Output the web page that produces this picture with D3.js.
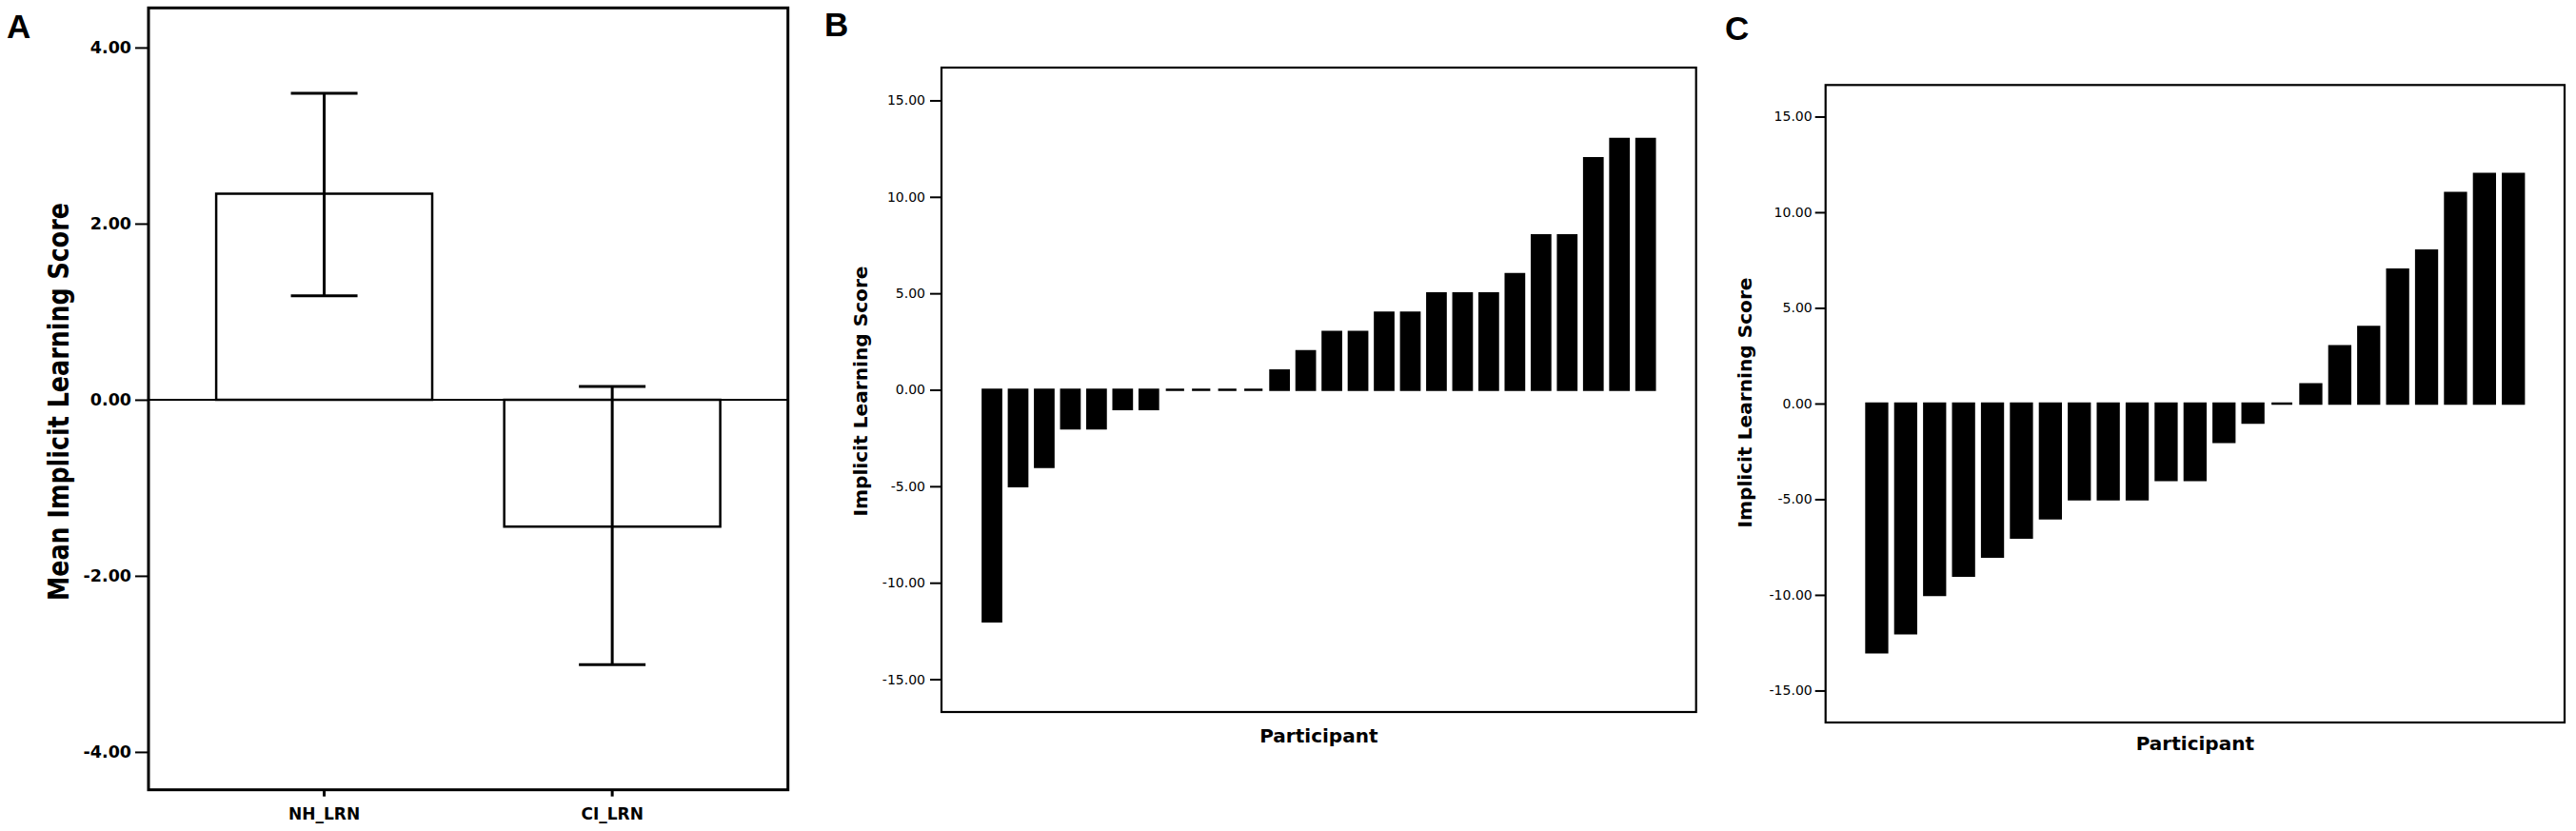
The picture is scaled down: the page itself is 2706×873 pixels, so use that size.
<!DOCTYPE html>
<html>
<head>
<meta charset="utf-8">
<script src="https://cdn.jsdelivr.net/npm/d3@7"></script>
<style>
  html, body { margin: 0; padding: 0; background: #fff; }
  svg { display: block; }
</style>
</head>
<body>
<script>
// ---------- data ----------
const groupsA = ["NH_LRN", "CI_LRN"];
const meansA = [2.34, -1.44];
const ciLowA = [1.18, -3.01];
const ciHighA = [3.48, 0.15];
const ticksA = [-4, -2, 0, 2, 4];

const scoresB = [-12, -5, -4, -2, -2, -1, -1, 0, 0, 0, 0, 1, 2, 3, 3, 4, 4, 5, 5, 5, 6, 8, 8, 12, 13, 13];
const scoresC = [-13, -12, -10, -9, -8, -7, -6, -5, -5, -5, -4, -4, -2, -1, 0, 1, 3, 4, 7, 8, 11, 12, 12];
const ticksBC = [-15, -10, -5, 0, 5, 10, 15];

const panelLabels = ["A", "B", "C"];
const yTitleA = "Mean Implicit Learning Score";
const yTitleBC = "Implicit Learning Score";
const xTitleBC = "Participant";

// ---------- setup ----------
const W = 2706, H = 873;
const svg = d3.select("body").append("svg").attr("width", W).attr("height", H);
svg.append("rect").attr("width", W).attr("height", H).attr("fill", "#fff");
const fmt = d => d.toFixed(2);
const tickFont = "'DejaVu Sans', Verdana, sans-serif";
const letterFont = "'Liberation Sans', Arial, sans-serif";

function panelLetter(t, x, y) {
  svg.append("text").attr("x", x).attr("y", y).text(t)
    .attr("font-family", letterFont).attr("font-weight", "bold")
    .attr("font-size", 35).attr("fill", "#000");
}

function yTitle(t, x, y, size, len) {
  svg.append("text").attr("transform", `translate(${x},${y}) rotate(-90)`)
    .attr("text-anchor", "middle").text(t)
    .attr("font-family", tickFont).attr("font-weight", "bold")
    .attr("font-size", size).attr("textLength", len).attr("lengthAdjust", "spacingAndGlyphs")
    .attr("fill", "#000");
}

// bar outline as a path so zero-valued bars still show as a short dash
function barPath(x0, w, ya, yb) {
  const p = d3.path();
  p.moveTo(x0, ya); p.lineTo(x0 + w, ya); p.lineTo(x0 + w, yb); p.lineTo(x0, yb); p.closePath();
  return p.toString();
}

// ---------- Panel A ----------
(function () {
  const L = 156, R = 827.7, T = 8.3, B = 829.7;
  const x = d3.scaleBand().domain(groupsA).range([L, R]).paddingInner(0.25).paddingOuter(0.235);
  const y = d3.scaleLinear().domain([-4.43, 4.45]).range([B, T]);
  const g = svg.append("g");
  const data = groupsA.map((k, i) => ({ k, m: meansA[i], lo: ciLowA[i], hi: ciHighA[i] }));

  g.selectAll("path.bar").data(data).join("path").attr("class", "bar")
    .attr("d", d => barPath(x(d.k), x.bandwidth(), y(0), y(d.m)))
    .attr("fill", "#fff").attr("stroke", "#000").attr("stroke-width", 2.5);

  g.append("line").attr("x1", L).attr("x2", R).attr("y1", y(0)).attr("y2", y(0))
    .attr("stroke", "#000").attr("stroke-width", 2);

  const cx = d => x(d.k) + x.bandwidth() / 2;
  const capW = 35;
  g.selectAll("line.err").data(data).join("line").attr("class", "err")
    .attr("x1", cx).attr("x2", cx).attr("y1", d => y(d.lo)).attr("y2", d => y(d.hi))
    .attr("stroke", "#000").attr("stroke-width", 3);
  ["lo", "hi"].forEach(key => {
    g.selectAll("line.cap" + key).data(data).join("line").attr("class", "cap" + key)
      .attr("x1", d => cx(d) - capW).attr("x2", d => cx(d) + capW)
      .attr("y1", d => y(d[key])).attr("y2", d => y(d[key]))
      .attr("stroke", "#000").attr("stroke-width", 3);
  });

  g.append("rect").attr("x", L).attr("y", T).attr("width", R - L).attr("height", B - T)
    .attr("fill", "none").attr("stroke", "#000").attr("stroke-width", 3);

  const ya = g.append("g").attr("transform", `translate(${L},0)`)
    .call(d3.axisLeft(y).tickValues(ticksA).tickFormat(fmt).tickSize(14).tickPadding(4));
  ya.select(".domain").remove();
  ya.selectAll("line").attr("stroke-width", 2);
  ya.selectAll("text").attr("font-family", tickFont).attr("font-weight", "bold")
    .attr("font-size", 17.5).attr("fill", "#000");

  const xa = g.append("g").attr("transform", `translate(0,${B})`)
    .call(d3.axisBottom(x).tickSize(7).tickPadding(12));
  xa.select(".domain").remove();
  xa.selectAll("line").attr("stroke-width", 3);
  xa.selectAll("text").attr("font-family", tickFont).attr("font-weight", "bold")
    .attr("font-size", 17).attr("fill", "#000");

  yTitle(yTitleA, 72, 422, 30, 418);
  panelLetter(panelLabels[0], 7, 40);
})();

// ---------- Panels B and C ----------
function participantPanel(values, box, pIn, pOut, yDom, tickSize, tickPad, titleX, titleY, xTitleY, letter, lx, ly) {
  const { L, R, T, B } = box;
  const idx = values.map((_, i) => i);
  const x = d3.scaleBand().domain(idx).range([L, R]).paddingInner(pIn).paddingOuter(pOut);
  const y = d3.scaleLinear().domain(yDom).range([B, T]);
  const g = svg.append("g");

  g.selectAll("path.bar").data(values).join("path").attr("class", "bar")
    .attr("d", (d, i) => barPath(x(i), x.bandwidth(), y(0), y(d)))
    .attr("fill", "#000").attr("stroke", "#000").attr("stroke-width", 2.5);

  g.append("rect").attr("x", L).attr("y", T).attr("width", R - L).attr("height", B - T)
    .attr("fill", "none").attr("stroke", "#000").attr("stroke-width", 2.2);

  const ya = g.append("g").attr("transform", `translate(${L},0)`)
    .call(d3.axisLeft(y).tickValues(ticksBC).tickFormat(fmt).tickSize(tickSize).tickPadding(tickPad));
  ya.select(".domain").remove();
  ya.selectAll("line").attr("stroke-width", 2);
  ya.selectAll("text").attr("font-family", tickFont).attr("font-size", 14).attr("fill", "#000");

  yTitle(yTitleBC, titleX, titleY, 20, 263);
  g.append("text").attr("x", (L + R) / 2).attr("y", xTitleY).attr("text-anchor", "middle")
    .text(xTitleBC).attr("font-family", tickFont).attr("font-weight", "bold")
    .attr("font-size", 20).attr("fill", "#000");
  panelLetter(letter, lx, ly);
}

participantPanel(scoresB, { L: 989, R: 1781.7, T: 71, B: 748 }, 0.30, 1.58, [-16.7, 16.7],
  12, 5, 911, 411, 780, panelLabels[1], 866, 38.3);
participantPanel(scoresC, { L: 1917.7, R: 2694, T: 89.3, B: 759 }, 0.283, 1.41, [-16.67, 16.65],
  11, 3, 1840, 423, 788, panelLabels[2], 1812, 41.5);
</script>
</body>
</html>
